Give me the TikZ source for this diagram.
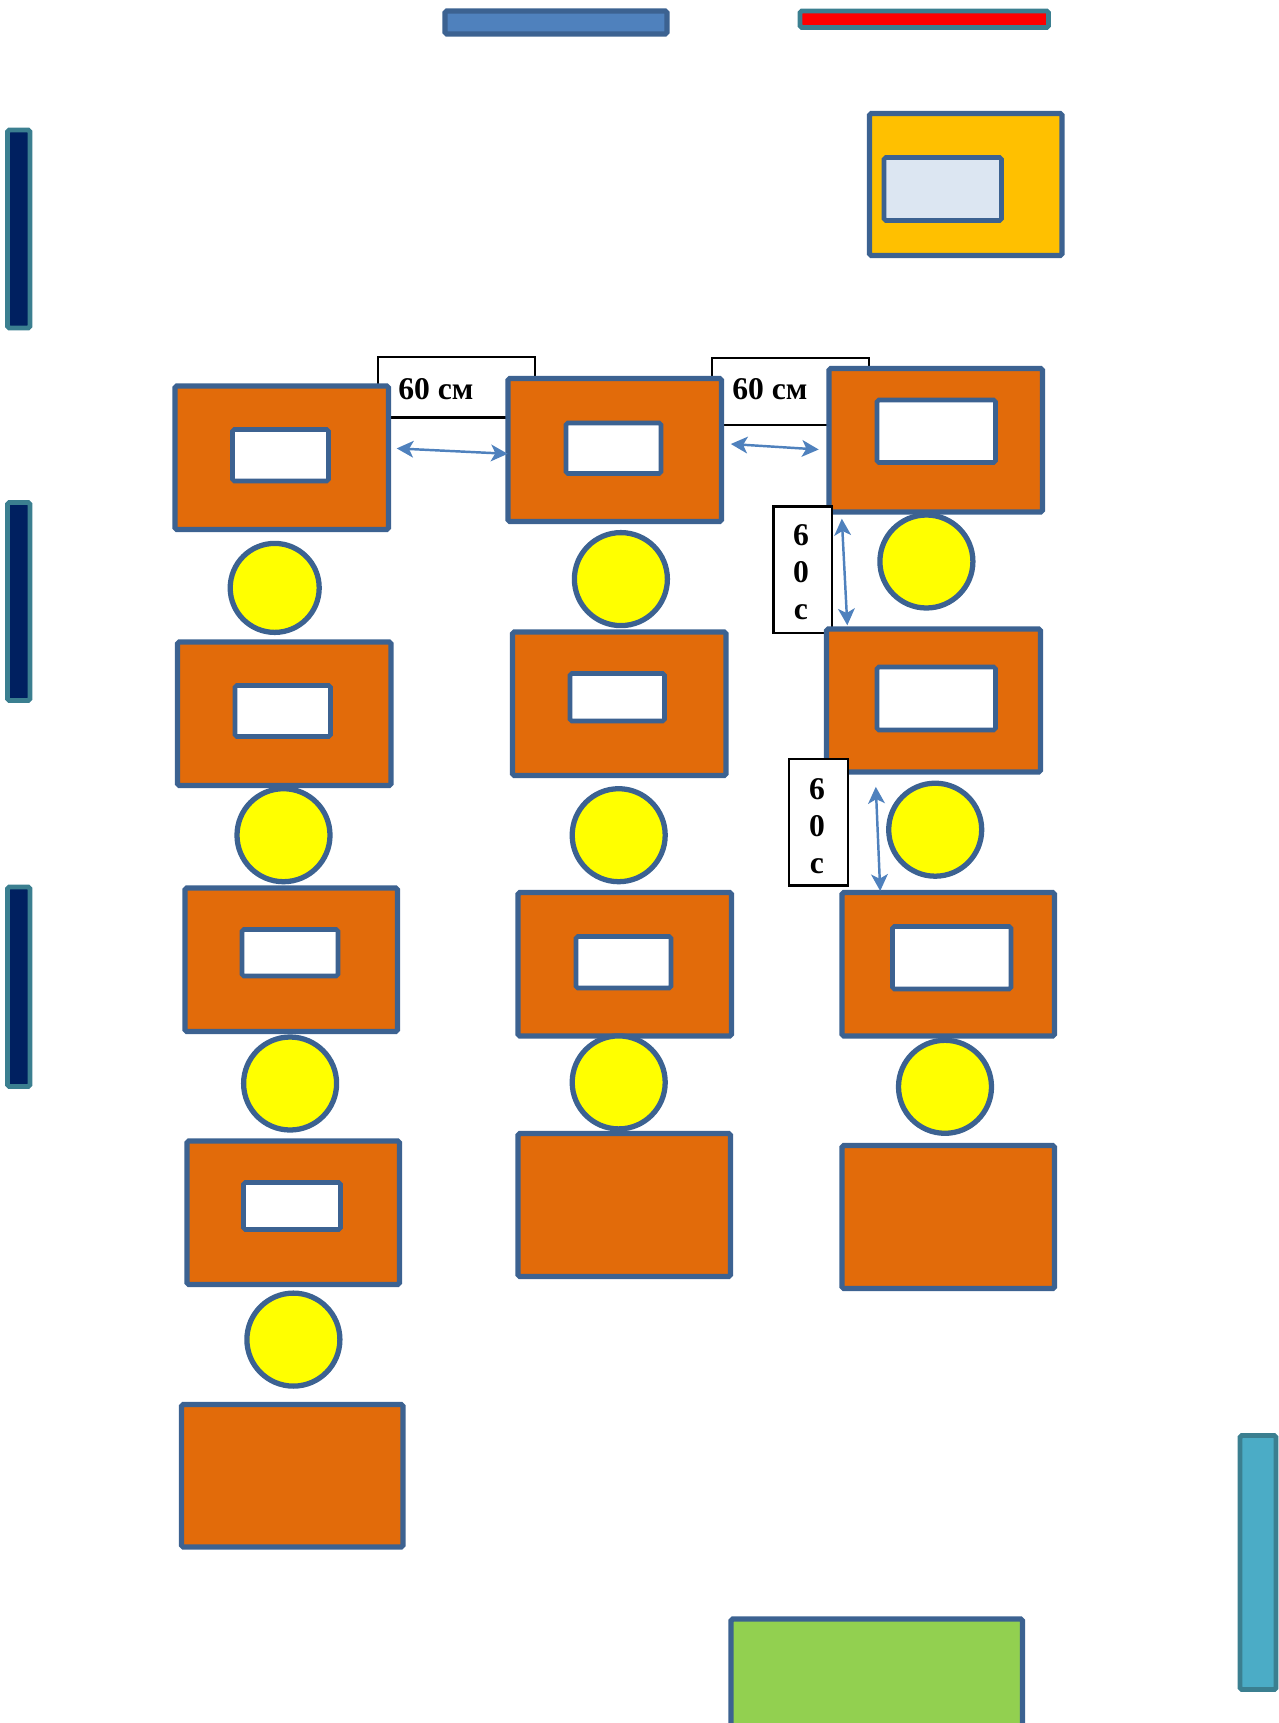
\documentclass[tikz,border=0pt]{standalone}
\usepackage{fontspec}
\setmainfont{Liberation Serif}
\usepackage{xcolor}
\usetikzlibrary{arrows.meta}

\definecolor{edgeblue}{HTML}{3C6291}
\definecolor{edgeteal}{HTML}{3B7F90}
\definecolor{deskorange}{HTML}{E26B0A}
\definecolor{arrowblue}{HTML}{4F81BD}
\definecolor{pupilyellow}{HTML}{FFFF00}
\definecolor{boardred}{HTML}{FF0000}
\definecolor{teachergold}{HTML}{FFC000}
\definecolor{teacherpane}{HTML}{DCE6F2}
\definecolor{wallnavy}{HTML}{002060}
\definecolor{wallcyan}{HTML}{4BACC6}
\definecolor{doorgreen}{HTML}{92D050}

\tikzset{
  desk/.style={draw=edgeblue,fill=deskorange,line width=3pt,rounded corners=1pt},
  pane/.style={draw=edgeblue,fill=white,line width=2.6pt,rounded corners=1pt},
  pupil/.style={draw=edgeblue,fill=pupilyellow,line width=3pt},
  wall/.style={draw=edgeteal,line width=2.8pt,rounded corners=1pt},
  tag/.style={draw=black,fill=white,line width=1.2pt},
  tagtext/.style={font=\fontsize{18}{21}\selectfont\bfseries,inner sep=0pt},
  gap/.style={draw=arrowblue,line width=1.4pt,{Stealth[length=9.5pt,width=9.5pt,inset=2.5pt]}-{Stealth[length=9.5pt,width=9.5pt,inset=2.5pt]}}
}

\begin{document}
\begin{tikzpicture}[x=0.02cm,y=-0.02cm]
\useasboundingbox (0,0) rectangle (1278,1723);

% top of the room
\draw[desk,fill=arrowblue] (445,11) rectangle (667,34);
\draw[wall,fill=boardred] (800,11) rectangle (1048.5,27.5);
\draw[desk,fill=teachergold] (869.5,113.5) rectangle (1062,255.5);
\draw[pane,fill=teacherpane] (884,157.5) rectangle (1001.5,220.5);

% walls
\draw[wall,fill=wallnavy] (7.5,130) rectangle (30,328);
\draw[wall,fill=wallnavy] (7.5,502.5) rectangle (30,700.5);
\draw[wall,fill=wallnavy] (7.5,887) rectangle (30,1086.5);
\draw[wall,fill=wallcyan] (1240,1435.5) rectangle (1276,1689.5);
\draw[desk,fill=doorgreen] (731,1619) rectangle (1022.5,1731);

% labels behind the desks
\draw[tag] (378,357) rectangle (535,417.5);
\node[tagtext,anchor=west] (gapa) at (398,389) {60 см};
\draw[tag] (712,358) rectangle (869,425);
\node[tagtext,anchor=west] (gapb) at (732,389) {60 см};

% first row
\draw[desk] (175,386) rectangle (388.5,529.5);
\draw[pane] (232.5,429.5) rectangle (328.5,481);
\draw[desk] (177.5,642) rectangle (391,785.5);
\draw[pane] (235,685.5) rectangle (330.5,736.5);
\draw[desk] (185,888) rectangle (397.5,1031.5);
\draw[pane] (242,929.5) rectangle (338,976);
\draw[desk] (187,1141) rectangle (399.5,1284.5);
\draw[pane] (243.5,1182.5) rectangle (340.5,1229.5);
\draw[desk] (181.5,1404.5) rectangle (403,1547);

% second row
\draw[desk] (508,378.5) rectangle (721.5,521.5);
\draw[pane] (566,423) rectangle (661,473.5);
\draw[desk] (512.5,632) rectangle (726,775.5);
\draw[pane] (570,673.5) rectangle (664.5,721);
\draw[desk] (518,892.5) rectangle (731.5,1036);
\draw[pane] (576,936.5) rectangle (671,988);
\draw[desk] (518,1133.5) rectangle (730.5,1276.5);

% third row
\draw[desk] (829,368.5) rectangle (1042.5,512);
\draw[pane] (877,400) rectangle (995.5,462.5);
\draw[tag] (773.5,506.5) rectangle (832,633);
\node[tagtext,align=center] (gapc) at (801,572.5) {6\\0\\с};
\draw[desk] (826.5,629) rectangle (1040.5,772);
\draw[pane] (877,667) rectangle (995.5,730);
\draw[tag] (789,759) rectangle (848,885.5);
\node[tagtext,align=center] (gapd) at (817,826) {6\\0\\с};
\draw[desk] (842,892.5) rectangle (1054.5,1036);
\draw[pane] (892.5,926.5) rectangle (1011,989);
\draw[desk] (842,1145.5) rectangle (1054.5,1288.5);

% pupils
\draw[pupil] (274.7,587.9) circle (44.5);
\draw[pupil] (283.5,835.2) circle (46.5);
\draw[pupil] (290.1,1083.5) circle (46.5);
\draw[pupil] (293.4,1339.6) circle (46.5);
\draw[pupil] (620.9,579.1) circle (46.5);
\draw[pupil] (618.7,835.2) circle (46.5);
\draw[pupil] (618.7,1082.4) circle (46.5);
\draw[pupil] (926.4,561.5) circle (46.5);
\draw[pupil] (935.2,829.7) circle (46.5);
\draw[pupil] (945,1086.8) circle (46.5);

% distances
\coordinate (aa) at (396.7,448.4);
\coordinate (ab) at (507.7,453.8);
\draw[gap] (aa) -- (ab);
\coordinate (ba) at (730.8,444);
\coordinate (bb) at (818.7,449.5);
\draw[gap] (ba) -- (bb);
\coordinate (ca) at (841.8,518.7);
\coordinate (cb) at (847.3,625.3);
\draw[gap] (ca) -- (cb);
\coordinate (da) at (875.8,786.8);
\coordinate (db) at (880.2,891);
\draw[gap] (da) -- (db);
\end{tikzpicture}
\end{document}
